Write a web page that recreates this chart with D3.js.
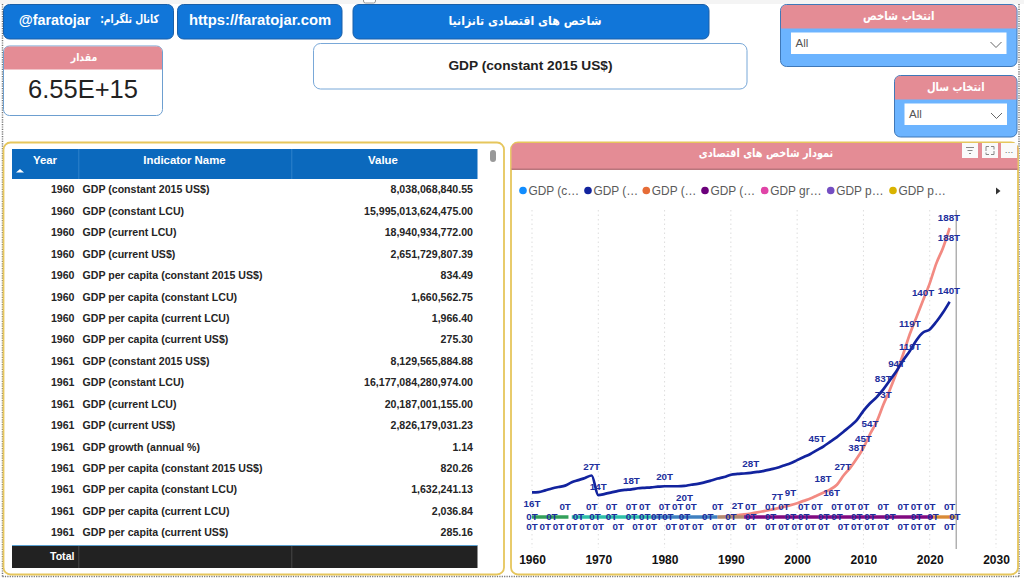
<!DOCTYPE html>
<html><head><meta charset="utf-8">
<style>html,body{margin:0;padding:0;background:#fff;overflow:hidden}svg{display:block}text{font-family:"Liberation Sans",Arial,sans-serif}</style>
<script src="https://cdn.jsdelivr.net/npm/d3@7/dist/d3.min.js"></script></head><body>
<script>
const tableYears=[1960,1960,1960,1960,1960,1960,1960,1960,1961,1961,1961,1961,1961,1961,1961,1961,1961];
const tableNames=["GDP (constant 2015 US$)","GDP (constant LCU)","GDP (current LCU)","GDP (current US$)","GDP per capita (constant 2015 US$)","GDP per capita (constant LCU)","GDP per capita (current LCU)","GDP per capita (current US$)","GDP (constant 2015 US$)","GDP (constant LCU)","GDP (current LCU)","GDP (current US$)","GDP growth (annual %)","GDP per capita (constant 2015 US$)","GDP per capita (constant LCU)","GDP per capita (current LCU)","GDP per capita (current US$)"];
const tableValues=[8038068840.55,15995013624475.00,18940934772.00,2651729807.39,834.49,1660562.75,1966.40,275.30,8129565884.88,16177084280974.00,20187001155.00,2826179031.23,1.14,820.26,1632241.13,2036.84,285.16];
const legendNames=["GDP (c…","GDP (…","GDP (…","GDP (…","GDP gr…","GDP p…","GDP p…"];
const legendColors=["#118dff","#12239e","#e66c37","#6b007b","#e044a7","#744ec2","#d9b300"];
const decades=[1960,1970,1980,1990,2000,2010,2020,2030];
const constantYears=[1960,1961,1962,1963,1964,1965,1966,1967,1968,1969,1970,1971,1972,1973,1974,1975,1976,1977,1978,1979,1980,1981,1982,1983,1984,1985,1986,1987,1988,1989,1990,1991,1992,1993,1994,1995,1996,1997,1998,1999,2000,2001,2002,2003,2004,2005,2006,2007,2008,2009,2010,2011,2012,2013,2014,2015,2016,2017,2018,2019,2020,2021,2022,2023];
const constantLcu=[16,16.2,17.3,18.5,19.5,20.4,22.6,24,25.4,27,14.2,15,16,17,17.6,18,18.7,19,19.3,19.7,20,20,20,20.2,21,21.5,22.5,23.7,25,26,27.5,28,28.3,28.7,29.3,30,31,32,33.5,35,37,39,41,43.5,46,49,52,55.5,59,63,69,74,78,83,89,95,102,108,115,120,122,127,133,140];
const currentYears=[1988,1989,1990,1991,1992,1993,1994,1995,1996,1997,1998,1999,2000,2001,2002,2003,2004,2005,2006,2007,2008,2009,2010,2011,2012,2013,2014,2015,2016,2017,2018,2019,2020,2021,2022,2023];
const currentLcu=[0,0.3,0.7,1.2,1.7,2.3,3,3.8,4.7,5.6,6.6,7.7,9,10.5,12,14,16,18,21,27,32,38,45,54,62,73,83,94,106,119,130,141,152,165,175,188];
const baselineColors=["#33a05a","#2fc0a8","#3f80c0","#b08a70","#800a80","#d98a35"];
const baselineFrom=[1960,1966,1978,1988,1992,2020.5];
const baselineTo=[1965.5,1978,1988,1992,2020.5,2024];
const zeroUpper=[1965,1969,1972,1975,1977,1980,1982,1984,1988,1993,1996,1998,2001,2003,2006,2008,2010,2013,2016,2018,2020,2023];
const zeroMiddle=[1960,1963,1967,1969.5,1972,1975,1977,1978.8,1980.5,1983,1986.5,1990,1993,1996,1999,2001,2004,2006,2009,2011,2014,2018,2020.5,2023.8];
const zeroLower=[1960,1962,1964,1966,1968,1970,1973,1976,1978,1981,1983,1985,1988,1990,1993,1996,1998,2000,2002,2004,2007,2009,2011,2013,2016,2018,2020,2023];
const markYears=[1960,1969,1970,1975,1980,1983,1991,1993,1997,1999,2003,2003.9,2005.2,2006.9,2009,2010,2011,2013,2013,2015,2017,2017,2019,2022.9,2022.9,2022.9];
const markLevels=[9,32.5,20,24,26,12.5,7.4,34.5,13,15.6,51,24.7,15.6,33,45,51,60.5,79.4,90,100,125.6,111,146,194.5,181.5,147];
const markTexts=["16T","27T","14T","18T","20T","20T","2T","28T","7T","9T","45T","18T","16T","27T","38T","45T","54T","73T","83T","94T","119T","119T","140T","188T","188T","140T"];

const W=1024,H=580;
const svg=d3.select("body").append("svg").attr("width",W).attr("height",H);
const fa='"DejaVu Sans","Liberation Sans",sans-serif';
const pink="#e48c95",blue="#1176d9",gold="#e6c65c",navy="#12239e";
const rect=(x,y,w,h,fill,stroke,r)=>svg.append("rect").attr("x",x).attr("y",y).attr("width",w).attr("height",h).attr("rx",r||0).attr("fill",fill).attr("stroke",stroke||"none");
const topR=(x,y,w,h,r,fill)=>svg.append("path").attr("fill",fill).attr("d",`M${x},${y+h}V${y+r}Q${x},${y} ${x+r},${y}H${x+w-r}Q${x+w},${y} ${x+w},${y+r}V${y+h}Z`);
const txt=(x,y,s,o={})=>{
  const t=svg.append("text").attr("dy","0.35em").text(s)
    .attr("text-anchor",o.a||"middle").attr("fill",o.c||"#222").attr("font-size",o.s||11).attr("font-weight",o.w||"bold")
    .style("font-family",o.f||null).attr("direction",o.d||null);
  if(o.sx) t.attr("transform",`translate(${x},${y}) scale(${o.sx},1)`);
  else t.attr("x",x).attr("y",y);
  return t;
};

// top strip + page border
rect(0,0,W,4,"#f4f4f4");
rect(363.5,-4,12,7,"#fff","#999",2);
const dot=(x1,y1,x2,y2)=>svg.append("line").attr("x1",x1).attr("y1",y1).attr("x2",x2).attr("y2",y2).attr("stroke","#777").attr("stroke-width",1.5).attr("stroke-dasharray","1.2 1.2");
dot(2.5,4,2.5,577);dot(1019,4,1019,577);dot(2.5,576.5,1019,576.5);

// buttons
[[3.5,4.5,170],[177.5,4.5,164.5],[353,4.5,356]].forEach(b=>rect(b[0],b[1],b[2],34.5,blue,"#1a5fa8",6));
txt(54.5,19.5,"@faratojar",{c:"#fff",s:14.4});
txt(129.5,19,"کانال تلگرام:",{c:"#fff",s:11.5,f:fa,d:"rtl",sx:.8});
txt(260,19.5,"https://faratojar.com",{c:"#fff",s:14.8});
txt(525,20.5,"شاخص های اقتصادی تانزانیا",{c:"#fff",s:12.5,f:fa,d:"rtl",sx:.88});

// value card
rect(3.5,46,159,69.5,"#fff","#6d9fd0",6);
topR(4,46.5,158,23,5.5,pink);
txt(84,57,"مقدار",{c:"#fff",s:11,f:fa,d:"rtl",sx:.85});
txt(83,89,"6.55E+15",{s:25.5,w:"normal"});

// title box
rect(313.5,43.5,433.5,45.5,"#fff","#79a8d8",7);
txt(530.5,65,"GDP (constant 2015 US$)",{s:13.7});

// slicers
function slicer(x,y,w,h,title,dx,dw,fs,sx){
  rect(x,y,w,h,"#6cb4ff","#3f78b8",6);
  topR(x+.5,y+.5,w-1,23.5,5.5,pink);
  txt(x+w/2,y+11,title,{c:"#fff",s:fs,f:fa,d:"rtl",sx:sx});
  rect(dx,y+28,dw,21.5,"#fff");
  txt(dx+4.5,y+38.5,"All",{a:"start",s:11.5,w:"normal",c:"#555"});
  svg.append("path").attr("fill","none").attr("stroke","#666").attr("d",`M${dx+dw-16},${y+37.5}l5.5,5.5l5.5,-5.5`);
}
slicer(780.5,4.5,236.5,62,"انتخاب شاخص",791,215.5,12,.85);
slicer(894.5,75.5,122.5,61.5,"انتخاب سال",904.5,102.5,12,.83);

// table card
rect(3.5,142.5,500.5,432,"#fff",gold,7).attr("stroke-width",1.8);
rect(12,149,465.5,30,"#0b69bd");
[78.5,291.5].forEach(x=>rect(x,149,.7,30,"#3c8bd2"));
txt(45,160,"Year",{c:"#fff",s:11.4});txt(184.5,160,"Indicator Name",{c:"#fff",s:11.4});txt(383,160,"Value",{c:"#fff",s:11.4});
svg.append("path").attr("fill","#fff").attr("d","M16,172.5l4,-3.6l4,3.6z");
rect(490,150,6,12,"#999",null,3);
const rowY=d3.scalePoint().domain(d3.range(tableYears.length)).range([189.7,532.5]);
const fmt=d3.format(",.2f");
const rows=svg.append("g").selectAll("g").data(tableYears).join("g").attr("transform",(d,i)=>`translate(0,${rowY(i)})`);
const cell=(sel,x,a,f)=>sel.append("text").attr("x",x).attr("dy","0.35em").attr("text-anchor",a).attr("font-size",10.6).attr("font-weight","bold").attr("fill","#252525").text(f);
cell(rows,74.5,"end",d=>d);
cell(rows,82.5,"start",(d,i)=>tableNames[i]);
cell(rows,473,"end",(d,i)=>fmt(tableValues[i]));
rect(12,545.5,465.5,22.5,"#222");
rect(78.5,546,.7,22,"#555");rect(291.5,546,.7,22,"#555");
rect(12,545,465.5,1,"#5aa0d0");
txt(74.5,556,"Total",{a:"end",c:"#fff",s:10.6});

// chart card
rect(511,142.5,507,432,"#fff",gold,7).attr("stroke-width",1.8);
topR(511.5,143,506,26,6,pink);
rect(511.5,168.5,506,1.5,"#b8757c");
txt(766,153,"نمودار شاخص های اقتصادی",{c:"#fff",s:11.5,f:fa,d:"rtl",sx:.85});
[[962,16],[982,16],[1001,16]].forEach(b=>rect(b[0],143,b[1],15,"#fafafa"));
svg.append("path").attr("fill","none").attr("stroke","#888").attr("d","M966,147.5h8M967.5,150.5h5M969,153.5h2");
svg.append("path").attr("fill","none").attr("stroke","#888").attr("d","M986,151v-4.5h3M991,146.5h3v3M994,151v3.5h-3M989,154.5h-3v-2");
txt(1009,150,"…",{c:"#666",s:9,w:"normal"});

// legend
const legendOff=[523,588,646.3,705,764.7,830.7,893];
const leg=svg.append("g").selectAll("g").data(legendNames).join("g").attr("transform",(d,i)=>`translate(${legendOff[i]},190.5)`);
leg.append("circle").attr("r",3.8).attr("fill",(d,i)=>legendColors[i]);
leg.append("text").attr("x",5.5).attr("dy","0.35em").attr("font-size",11.9).attr("fill","#5a5a5a").text(d=>d);
svg.append("path").attr("fill","#333").attr("d","M996,187.5l4.5,3.5l-4.5,3.5z");

// plot
const x=d3.scaleLinear().domain([1960,2030]).range([532,996]);
const y=d3.scaleLinear().domain([0,188]).range([517,228]);
const axis=svg.append("g").attr("transform","translate(0,550)").call(d3.axisBottom(x).tickValues(decades).tickFormat(d3.format("d")).tickSize(0).tickPadding(5));
axis.select(".domain").remove();
axis.selectAll("text").attr("font-size",12).attr("font-weight","bold").attr("fill","#111").style("font-family",'"Liberation Sans",Arial,sans-serif');
svg.append("g").selectAll("line").data(decades).join("line").attr("x1",d=>x(d)).attr("x2",d=>x(d)).attr("y1",210).attr("y2",548)
  .attr("stroke","#ddd").attr("stroke-dasharray","1.5 3");
const line=d3.line().x(d=>x(d[0])).y(d=>y(d[1])).curve(d3.curveMonotoneX);
svg.append("path").attr("fill","none").attr("stroke","#f28a82").attr("stroke-width",2.7).attr("d",line(d3.zip(currentYears,currentLcu)));
baselineColors.forEach((c,i)=>svg.append("path").attr("fill","none").attr("stroke",c).attr("stroke-width",3.4).attr("d",line([[baselineFrom[i],0],[baselineTo[i],0]])));
svg.append("path").attr("fill","none").attr("stroke",navy).attr("stroke-width",2.7).attr("d",line(d3.zip(constantYears,constantLcu)));
svg.append("line").attr("x1",x(2024)).attr("x2",x(2024)).attr("y1",210).attr("y2",549).attr("stroke","#a5a5a5").attr("stroke-width",1.3);
const lab=(data,yf,tf)=>svg.append("g").selectAll("text").data(data).join("text").attr("x",d=>x(d)).attr("y",yf).attr("dy","0.35em")
  .attr("text-anchor","middle").attr("font-size",9.8).attr("font-weight","bold").attr("fill","#1c2e9c").text(tf);
lab(zeroUpper,()=>y(6.5),"0T");
lab(zeroMiddle,()=>y(0),"0T");
lab(zeroLower,()=>y(-6.5),"0T");
lab(markYears,(d,i)=>y(markLevels[i]),(d,i)=>markTexts[i]);
</script></body></html>
